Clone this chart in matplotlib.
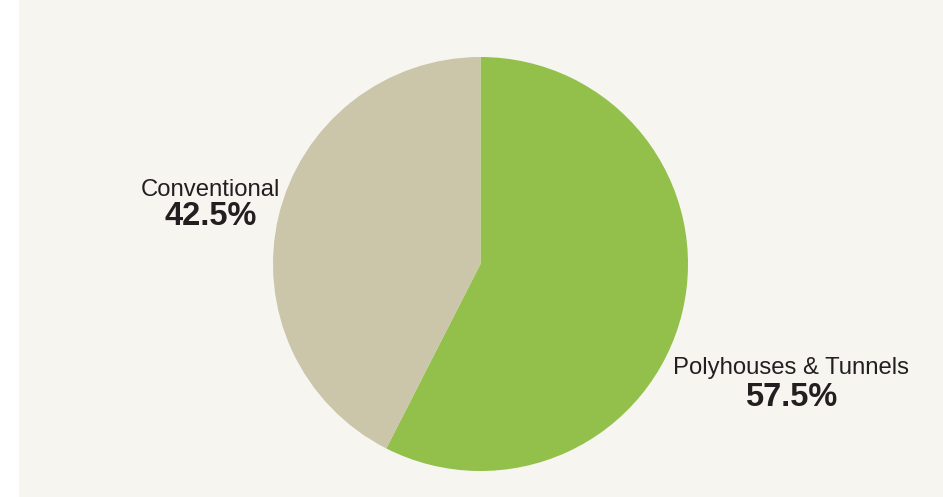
import matplotlib
matplotlib.use("Agg")
import matplotlib.pyplot as plt
from matplotlib.patches import Rectangle

categories = ["Polyhouses & Tunnels", "Conventional"]
values = [57.5, 42.5]
colors = ["#92c04a", "#cbc5a9"]

plt.rcParams['font.family'] = ['Liberation Sans', 'DejaVu Sans']

W, H = 943, 497
fig = plt.figure(figsize=(W / 100, H / 100), dpi=100, facecolor="white")
fig.patches.append(Rectangle((19 / W, 0), 1 - 19 / W, 1, transform=fig.transFigure,
                             facecolor="#f6f5f0", edgecolor="none", zorder=-10))

ax = fig.add_axes([273 / W, 26 / H, 415 / W, 414 / H])
ax.pie(values, colors=colors, startangle=90, counterclock=False,
       wedgeprops=dict(linewidth=0))
ax.set_xlim(-1, 1)
ax.set_ylim(-1, 1)
ax.set_aspect('auto')
ax.axis('off')

txt = "#231f20"
label_pos = {"Polyhouses & Tunnels": (1.496, -0.531, -0.686),
             "Conventional": (-1.30, 0.328, 0.188)}
for cat, v in zip(categories, values):
    x, y1, y2 = label_pos[cat]
    ax.text(x, y1, cat, ha='center', va='baseline', fontsize=17.2, color=txt, clip_on=False)
    ax.text(x, y2, f"{v}%", ha='center', va='baseline', fontsize=23.5, fontweight='bold',
            color=txt, clip_on=False)

fig.savefig("out.png", dpi=100, facecolor=fig.get_facecolor())
